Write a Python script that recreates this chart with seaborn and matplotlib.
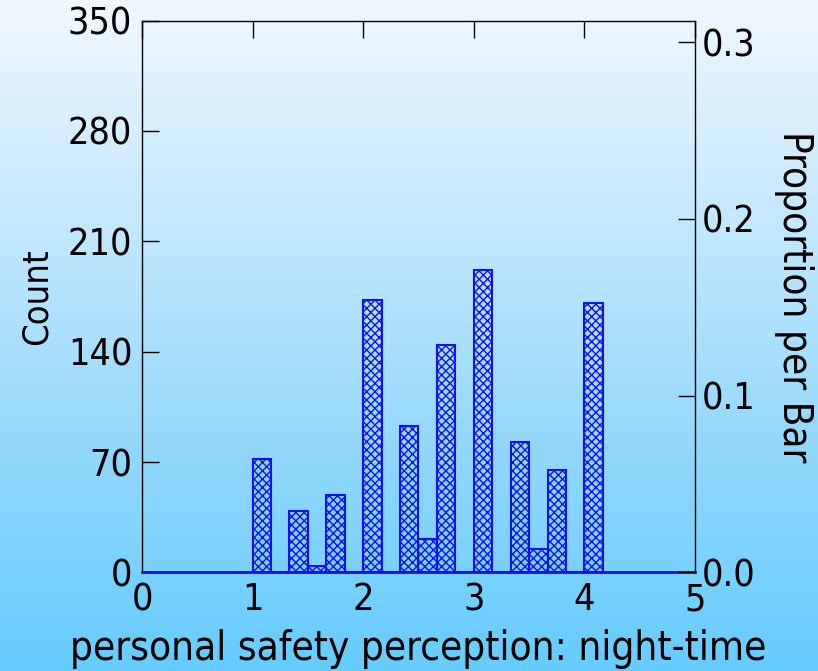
import numpy as np
import pandas as pd
import matplotlib
matplotlib.use("Agg")
import matplotlib.pyplot as plt
from matplotlib.colors import LinearSegmentedColormap
import seaborn as sns

# Data: histogram of night-time safety perception (bins of width 1/6)
bin_left = [1.0, 1.1667, 1.3333, 1.5, 1.6667, 1.8333, 2.0, 2.1667, 2.3333, 2.5,
            2.6667, 2.8333, 3.0, 3.1667, 3.3333, 3.5, 3.6667, 3.8333, 4.0]
counts = [72, 0, 39, 4, 49, 0, 173, 0, 93, 21, 144, 0, 192, 0, 83, 15, 65, 0, 171]
x_ticks = [0, 1, 2, 3, 4, 5]
count_ticks = [0, 70, 140, 210, 280, 350]
prop_ticks = [0.0, 0.1, 0.2, 0.3]

sns.set_theme(style="ticks")
plt.rcParams['font.family'] = ['DejaVu Sans']
plt.rcParams['font.stretch'] = 'condensed'
plt.rcParams['text.color'] = 'black'
plt.rcParams['axes.labelcolor'] = 'black'
plt.rcParams['xtick.color'] = 'black'
plt.rcParams['ytick.color'] = 'black'
plt.rcParams['hatch.color'] = '#1010f0'
plt.rcParams['hatch.linewidth'] = 1.0

BAR_BLUE = '#1010f0'
TICK_FS = 27


def main():
    fig = plt.figure(figsize=(8.18, 6.71), dpi=100)

    # gradient background
    bg = fig.add_axes([0, 0, 1, 1], zorder=-10)
    cmap = LinearSegmentedColormap.from_list(
        'bg', ['#f0f8ff', '#c4e8fd', '#93d8fb', '#66ccff'])
    grad = np.linspace(0, 1, 256).reshape(-1, 1)
    bg.imshow(grad, aspect='auto', cmap=cmap, extent=[0, 1, 0, 1], origin='upper')
    bg.set_axis_off()

    ax = fig.add_axes([0.1736, 0.1468, 0.6760, 0.8226])
    ax.set_facecolor('none')

    df = pd.DataFrame({'value': [b + 1 / 12 for b in bin_left], 'n': counts})
    sns.histplot(data=df, x='value', weights='n', binwidth=1 / 6,
                 binrange=(1.0, 4.0 + 1 / 6),
                 fill=False, color=BAR_BLUE, linewidth=1.5, ax=ax)
    for p in ax.patches:
        p.set_hatch('xxxx')
        p.set_edgecolor(BAR_BLUE)

    ax.set_xlim(0, 5)
    ax.set_ylim(0, 350)
    ax.set_xticks(x_ticks)
    ax.set_yticks(count_ticks)
    ax.tick_params(axis='x', direction='in', top=True, bottom=False,
                   labelbottom=True, length=12, width=1, pad=7,
                   labelsize=TICK_FS)
    ax.tick_params(axis='y', direction='in', length=12, width=1, pad=7,
                   labelsize=TICK_FS)
    for side in ['left', 'top', 'right']:
        ax.spines[side].set_color('black')
        ax.spines[side].set_linewidth(1)
    ax.spines['bottom'].set_color(BAR_BLUE)
    ax.spines['bottom'].set_linewidth(2)
    ax.set_xlabel('personal safety perception: night-time', fontsize=29, labelpad=8)
    ax.set_ylabel('Count', fontsize=26, labelpad=10)

    # secondary proportion axis
    total = sum(counts)
    ax2 = ax.twinx()
    ax2.set_ylim(0, 350 / total)
    ax2.set_yticks(prop_ticks)
    ax2.set_yticklabels([f'{t:.1f}' for t in prop_ticks])
    ax2.tick_params(axis='y', direction='in', length=12, width=1, pad=5,
                    labelsize=TICK_FS)
    for side in ['left', 'top', 'right', 'bottom']:
        ax2.spines[side].set_visible(False)
    ax2.set_ylabel('Proportion per Bar', fontsize=29, rotation=-90, labelpad=42)

    fig.savefig('out.png', dpi=100)
    plt.close(fig)


if __name__ == "__main__":
    main()
